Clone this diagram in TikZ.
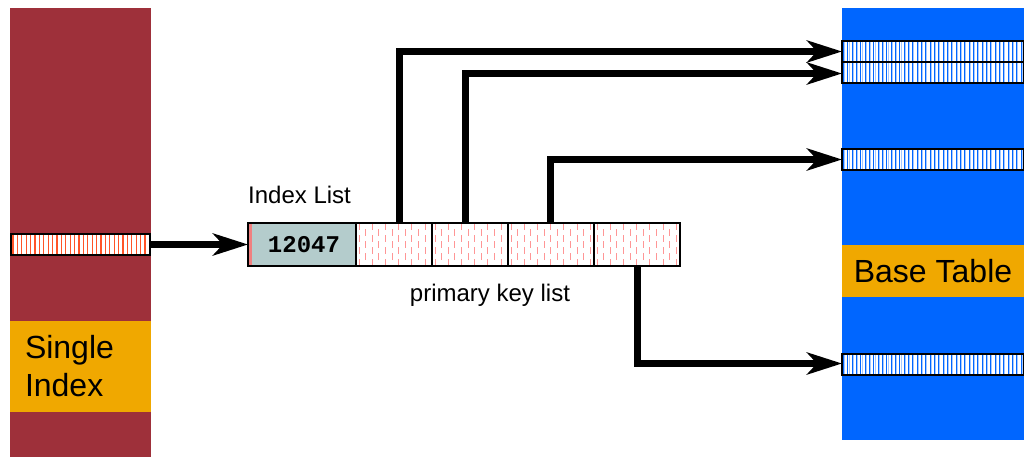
\documentclass[tikz,border=0pt]{standalone}
\usepackage{fontspec}
\setmainfont{Liberation Sans}
\newfontfamily\keyfont{Liberation Mono}
\usetikzlibrary{arrows.meta,positioning}
\definecolor{idxred}{RGB}{158,48,58}
\definecolor{lblorange}{RGB}{240,168,0}
\definecolor{tblblue}{RGB}{0,102,255}
\definecolor{keygray}{RGB}{180,204,204}
\definecolor{tipred}{RGB}{240,128,128}
\definecolor{recred}{RGB}{255,84,40}
\definecolor{pkpink}{RGB}{255,150,150}

\begin{document}
\begin{tikzpicture}[x=1pt,y=-1pt,
  bar/.style={inner sep=0pt,outer sep=0pt,anchor=north west},
  lbl/.style={bar,fill=lblorange},
  txt/.style={inner sep=0pt,font=\fontsize{24}{28}\selectfont},
  redrec/.style={bar,draw,line width=1.5pt,fill=white,minimum width=139pt,minimum height=21pt,
    path picture={\foreach \k in {0,...,31}
      \draw[recred,line width=1.3pt] ([xshift=\k*4.4pt+2pt]path picture bounding box.south west) -- ([xshift=\k*4.4pt+2pt]path picture bounding box.north west);}},
  bluerec/.style={bar,draw,line width=1.5pt,fill=white,minimum width=182pt,minimum height=21pt,
    path picture={\foreach \k in {0,...,42}{
      \draw[tblblue,line width=0.9pt] ([xshift=\k*4.33pt+1.5pt]path picture bounding box.south west) -- ([xshift=\k*4.33pt+1.5pt]path picture bounding box.north west);
      \draw[tblblue!35,line width=0.8pt] ([xshift=\k*4.33pt+2.6pt]path picture bounding box.south west) -- ([xshift=\k*4.33pt+2.6pt]path picture bounding box.north west);}}},
  pkcell/.style={draw,line width=2pt,fill=white,inner sep=0pt,outer sep=0pt,minimum height=43pt,
    path picture={\foreach \k in {0,...,13}
      \draw[pkpink,line width=0.8pt,dash pattern=on 7pt off 5pt,dash phase={mod(\k,2)*6pt}] ([xshift=\k*6.6pt+3pt]path picture bounding box.north west) -- ([xshift=\k*6.6pt+3pt]path picture bounding box.south west);}},
  arr/.style={line width=7pt,line join=miter,-{Stealth[length=35pt,width=22pt,inset=10pt]}}]

\useasboundingbox (0,0) rectangle (1024,457);

% single index
\node[bar,fill=idxred,minimum width=141pt,minimum height=449pt] (single) at (10,8) {};
\node[lbl,minimum width=141pt,minimum height=91pt,text width=111pt,align=left,
  font=\fontsize{32}{38}\selectfont] (singlelbl) at (10,321) {Single\\Index};
\node[redrec] (rec) at (11,234) {};

% base table
\node[bar,fill=tblblue,minimum width=182pt,minimum height=432pt] (base) at (842,8) {};
\node[lbl,minimum width=182pt,minimum height=52pt,font=\fontsize{32}{38}\selectfont] (baselbl) at (842,245) {Base Table};
\node[bluerec] (r1) at (842,41) {};
\node[bluerec] (r2) at (842,62) {};
\node[bluerec] (r3) at (842,149) {};
\node[bluerec] (r4) at (842,354) {};

% index list
\node[bar,fill=tipred,minimum width=4pt,minimum height=43pt] (tip) at (248,223) {};
\node[bar,fill=keygray,minimum width=104pt,minimum height=43pt,font=\keyfont\bfseries\fontsize{24}{28}\selectfont] (key) at (252,223) {12047};
\node[pkcell,minimum width=76pt,right=0pt of key] (c1) {};
\node[pkcell,minimum width=76pt,right=0pt of c1] (c2) {};
\node[pkcell,minimum width=86pt,right=0pt of c2] (c3) {};
\node[pkcell,minimum width=86pt,right=0pt of c3] (c4) {};
\draw[line width=2pt] (tip.north west) rectangle (c4.south east);

\node[txt,anchor=base west] (idxlbl) at (248,203) {Index List};
\node[txt,anchor=base] (pklbl) at (490,301) {primary key list};

% pointers
\draw[arr] (rec.east) -- (tip.west);
\draw[arr] ([xshift=5.5pt]c1.north) |- (r1.west);
\draw[arr] ([xshift=-4.5pt]c2.north) |- ([yshift=-1pt]r2.west);
\draw[arr] ([xshift=-1pt]c3.north) |- (r3.west);
\draw[arr] (c4.south) |- ([yshift=1pt]r4.west);
\end{tikzpicture}
\end{document}
